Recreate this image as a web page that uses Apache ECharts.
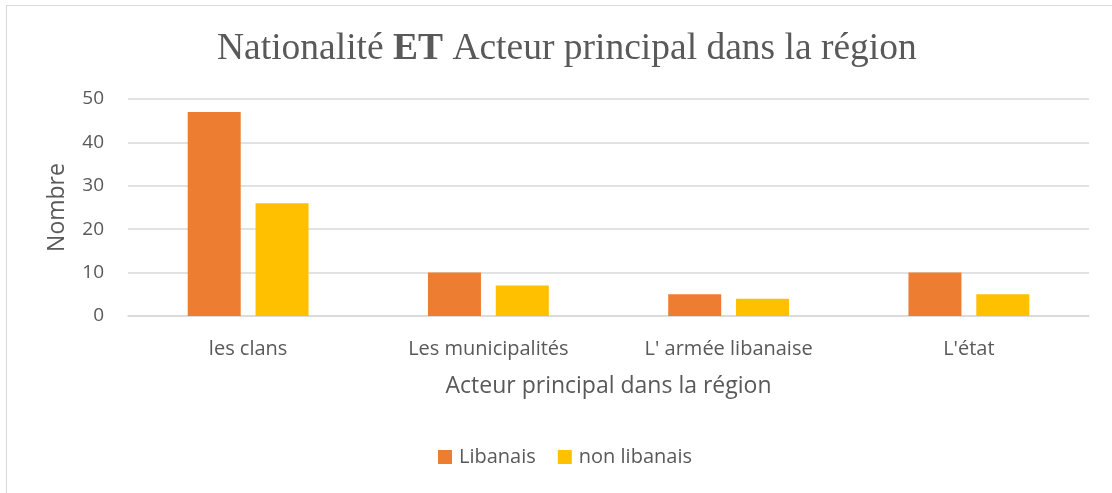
<!DOCTYPE html>
<html lang="fr">
<head>
    <meta charset="utf-8">
    <title>Nationalité ET Acteur principal dans la région</title>
    <script src="https://cdn.jsdelivr.net/npm/echarts@6/dist/echarts.min.js"></script>
    <style>
        html, body { margin: 0; padding: 0; background: #fff; }
        #frame {
            position: absolute;
            left: 6px;
            top: 5px;
            width: 1120px;
            height: 500px;
            border: 1px solid #d9d9d9;
        }
        #main { position: absolute; left: 0; top: 0; width: 1112px; height: 493px; }
    </style>
</head>
<body>
<div id="frame"></div>
<div id="main"></div>
<script type="text/javascript">
    // données
    var categories = ['les clans', 'Les municipalités', "L' armée libanaise", "L'état"];
    var libanais = [47, 10, 5, 10];
    var nonLibanais = [26, 7, 4, 5];
    var yTicks = {min: 0, max: 50, interval: 10};

    var textColor = '#595959';
    var sansFont = '"Open Sans", "Noto Sans", sans-serif';
    var serifFont = '"Liberation Serif", serif';

    var myChart = echarts.init(document.getElementById('main'), null, {renderer: 'canvas'});

    var option = {
        animation: false,
        color: ['#ED7D31', '#FFC000'],
        title: {
            text: '{a|Nationalité }{b|ET}{a| Acteur principal dans la région}',
            left: 212,
            top: 25,
            textStyle: {
                fontWeight: 'normal',
                rich: {
                    a: {fontFamily: serifFont, fontSize: 37.5, fontWeight: 'normal', color: textColor},
                    b: {fontFamily: serifFont, fontSize: 37.5, fontWeight: 'bold', color: textColor}
                }
            }
        },
        legend: {
            bottom: 21,
            left: 433,
            itemWidth: 14,
            itemHeight: 14,
            itemGap: 22,
            icon: 'rect',
            textStyle: {fontFamily: sansFont, fontSize: 20, color: textColor, padding: [0, 0, 0, 2]}
        },
        grid: {left: 128, right: 23, top: 99, bottom: 177, containLabel: false},
        xAxis: {
            type: 'category',
            data: categories,
            name: 'Acteur principal dans la région',
            nameLocation: 'middle',
            nameGap: 59,
            nameTextStyle: {fontFamily: sansFont, fontSize: 23, color: textColor},
            axisLine: {lineStyle: {color: '#d9d9d9', width: 1.5}},
            axisTick: {show: false},
            axisLabel: {fontFamily: sansFont, fontSize: 20, color: textColor, margin: 23}
        },
        yAxis: {
            type: 'value',
            min: yTicks.min,
            max: yTicks.max,
            interval: yTicks.interval,
            name: 'Nombre',
            nameLocation: 'middle',
            nameGap: 59,
            nameTextStyle: {fontFamily: sansFont, fontSize: 23, color: textColor},
            axisLine: {show: false},
            axisTick: {show: false},
            axisLabel: {fontFamily: sansFont, fontSize: 19, color: textColor, margin: 24},
            splitLine: {lineStyle: {color: '#d9d9d9', width: 1.5}}
        },
        series: [
            {
                name: 'Libanais',
                type: 'bar',
                data: libanais,
                barWidth: 53,
                barGap: '28%'
            },
            {
                name: 'non libanais',
                type: 'bar',
                data: nonLibanais,
                barWidth: 53,
                barGap: '28%'
            }
        ]
    };

    myChart.setOption(option);
    window.addEventListener('resize', myChart.resize);
</script>
</body>
</html>
